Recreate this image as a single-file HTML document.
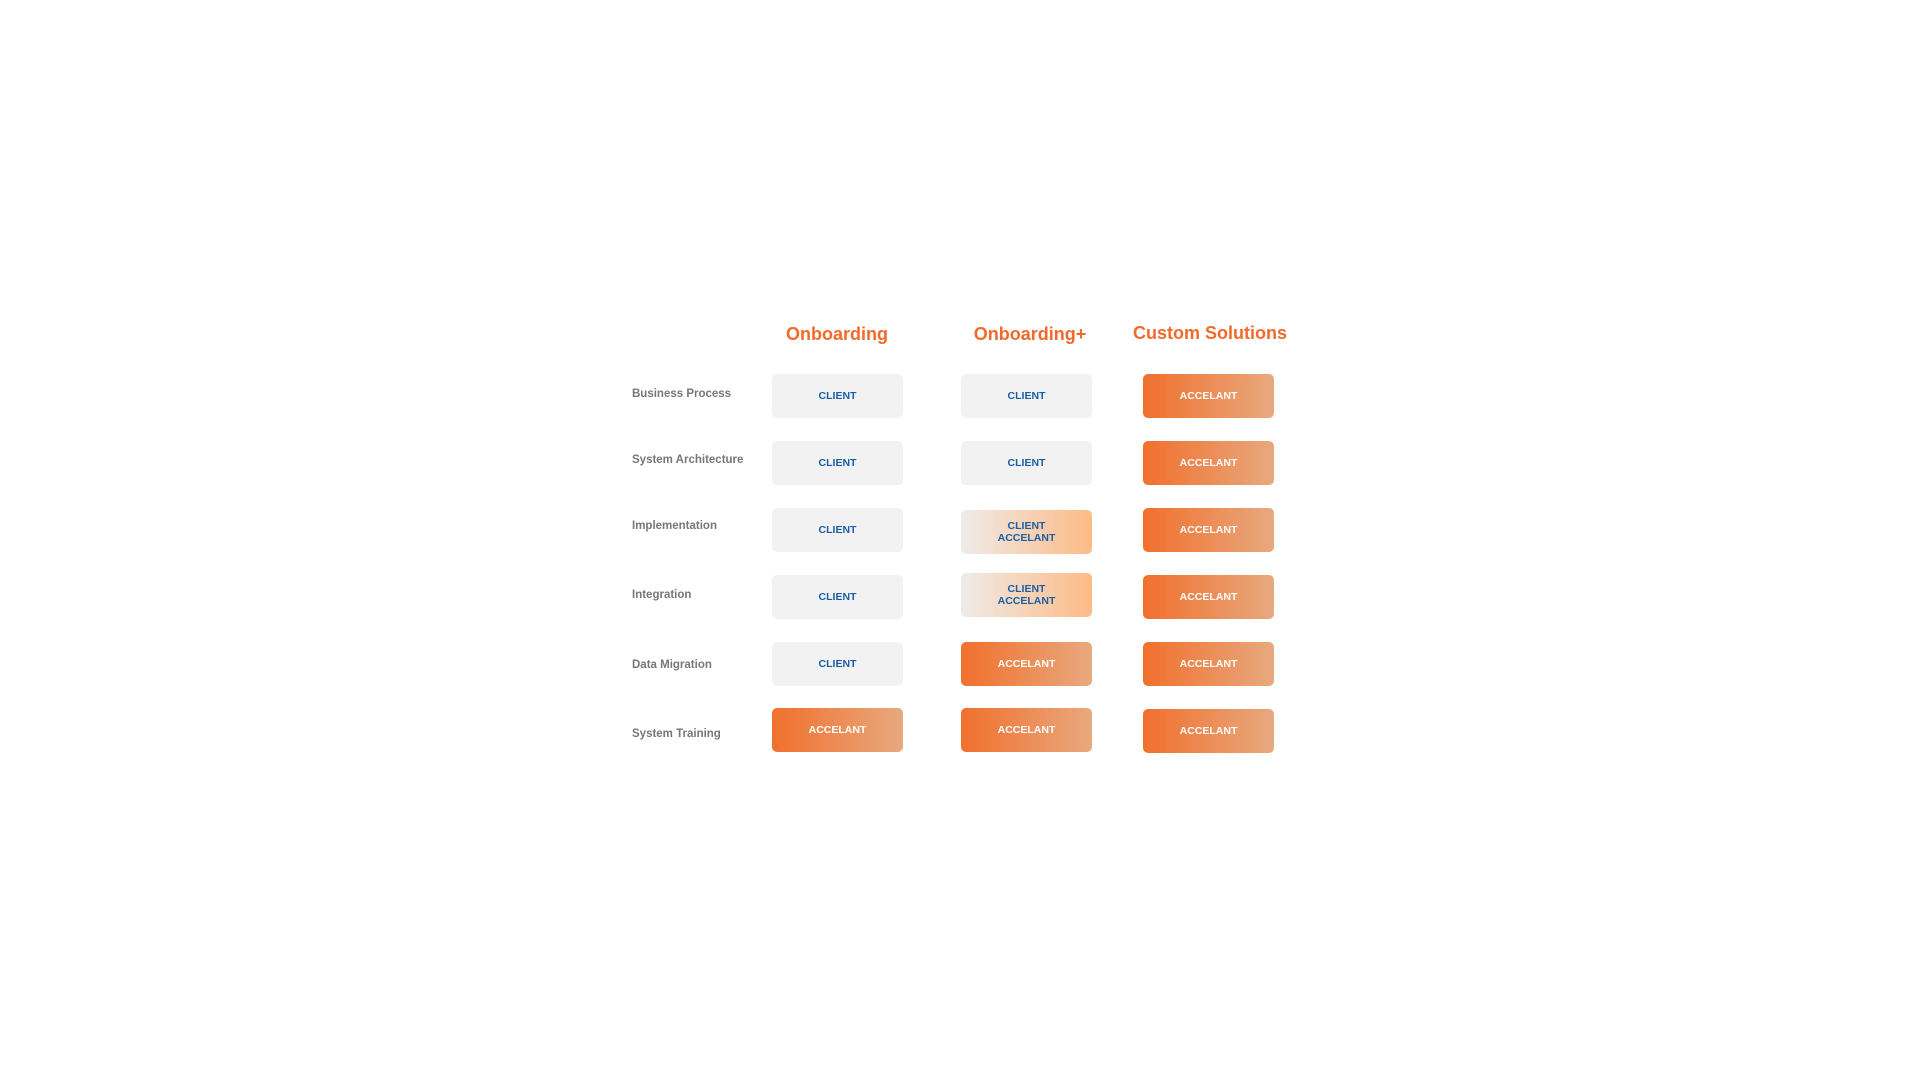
<!DOCTYPE html>
<html><head><style>
html,body{margin:0;padding:0;background:#fff;width:1920px;height:1080px;overflow:hidden;position:relative;font-family:"Liberation Sans",sans-serif;}
.h{position:absolute;top:324px;color:#f26a2b;font-weight:bold;font-size:18px;transform:translateX(-50%);white-space:nowrap;}
.l{position:absolute;left:632px;color:#777;font-weight:bold;font-size:11.5px;transform:translateY(-50%);white-space:nowrap;margin-top:1px;}
.b{position:absolute;width:131px;height:44px;border-radius:5px;display:flex;align-items:center;justify-content:center;text-align:center;font-weight:bold;font-size:10.5px;line-height:12px;}
.c{background:#f2f2f2;color:#1a5ea6;}
.a{background:linear-gradient(90deg,#f1702d,#e8a97f);color:#fff;}
.m{background:linear-gradient(90deg,#efebe8,#fdbb86);color:#1a5ea6;}
</style></head><body>
<div class="h" style="left:837px">Onboarding</div>
<div class="h" style="left:1030px">Onboarding+</div>
<div class="h" style="left:1210px;top:323px">Custom Solutions</div>

<div class="l" style="top:393px">Business Process</div>
<div class="l" style="top:459px">System Architecture</div>
<div class="l" style="top:525px">Implementation</div>
<div class="l" style="top:594px">Integration</div>
<div class="l" style="top:664px">Data Migration</div>
<div class="l" style="top:733px">System Training</div>

<div class="b c" style="left:772px;top:374px">CLIENT</div>
<div class="b c" style="left:961px;top:374px">CLIENT</div>
<div class="b a" style="left:1143px;top:374px">ACCELANT</div>

<div class="b c" style="left:772px;top:441px">CLIENT</div>
<div class="b c" style="left:961px;top:441px">CLIENT</div>
<div class="b a" style="left:1143px;top:441px">ACCELANT</div>

<div class="b c" style="left:772px;top:508px">CLIENT</div>
<div class="b m" style="left:961px;top:510px">CLIENT<br>ACCELANT</div>
<div class="b a" style="left:1143px;top:508px">ACCELANT</div>

<div class="b c" style="left:772px;top:575px">CLIENT</div>
<div class="b m" style="left:961px;top:573px">CLIENT<br>ACCELANT</div>
<div class="b a" style="left:1143px;top:575px">ACCELANT</div>

<div class="b c" style="left:772px;top:642px">CLIENT</div>
<div class="b a" style="left:961px;top:642px">ACCELANT</div>
<div class="b a" style="left:1143px;top:642px">ACCELANT</div>

<div class="b a" style="left:772px;top:708px">ACCELANT</div>
<div class="b a" style="left:961px;top:708px">ACCELANT</div>
<div class="b a" style="left:1143px;top:709px">ACCELANT</div>
</body></html>
